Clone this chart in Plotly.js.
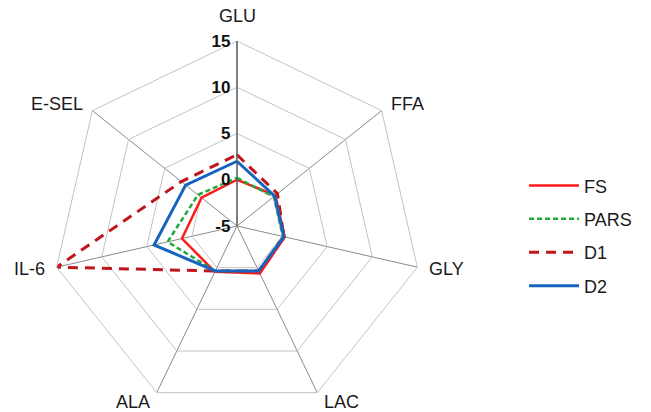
<!DOCTYPE html>
<html>
<head>
<meta charset="utf-8">
<script src="https://cdn.plot.ly/plotly-3.0.1.min.js"></script>
<style>html,body{margin:0;padding:0;background:#fff;}#chart{width:651px;height:412px;}</style>
</head>
<body>
<div id="chart"></div>
<script>
var categories = ['GLU', 'FFA', 'GLY', 'LAC', 'ALA', 'IL-6', 'E-SEL'];
var FS   = [0.0, 0.3, 0.3, 0.7, 0.5, 1.1, -0.1];
var PARS = [0.2, 0.1, 0.1, 0.4, 0.4, 2.7, 0.4];
var D1   = [2.7, 0.6, 0.2, 0.4, 0.4, 15.0, 2.7];
var D2   = [2.0, 0.2, 0.2, 0.4, 0.4, 4.2, 2.1];
var radialTicks = [-5, 0, 5, 10, 15];

var W = 651, H = 412;
var domX = [52 / W, 422 / W];
var domY = [1 / H, 371 / H];

function closed(a) { return a.concat([a[0]]); }

function trace(name, vals, color, width, dash) {
  return {
    type: 'scatterpolar', mode: 'lines', name: name, legendgroup: name,
    r: closed(vals), theta: closed(categories),
    line: {color: color, width: width, dash: dash}
  };
}

var data = [
  trace('FS', FS, '#ff1a1a', 2.5, 'solid'),
  trace('PARS', PARS, '#1fa83c', 2.5, '5px,3px'),
  trace('D1', D1, '#c0151c', 3, '10px,7px'),
  trace('D2', D2, '#1565c0', 3, 'solid')
];

// category labels placed just outside each outer vertex of the polygon
var cxp = (domX[0] + domX[1]) / 2, cyp = (domY[0] + domY[1]) / 2;
var Rpx = Math.min((domX[1] - domX[0]) * W, (domY[1] - domY[0]) * H) / 2;
var gap = 10;
var annotations = categories.map(function (c, i) {
  var a = Math.PI / 2 - i * 2 * Math.PI / categories.length;
  var co = Math.cos(a), si = Math.sin(a);
  return {
    xref: 'paper', yref: 'paper', showarrow: false, text: c,
    x: cxp + Rpx * co / W, y: cyp + Rpx * si / H,
    xshift: gap * co, yshift: gap * si + (si > 0.9 ? 3 : 0),
    xanchor: Math.abs(co) < 0.1 ? 'center' : (co > 0 ? 'left' : 'right'),
    yanchor: si > 0.9 ? 'bottom' : 'middle',
    font: {size: 18, color: '#1a1a1a'}
  };
});

var layout = {
  width: W, height: H,
  margin: {l: 0, r: 0, t: 0, b: 0},
  paper_bgcolor: '#ffffff',
  font: {family: 'Liberation Sans, Arial, sans-serif', size: 17, color: '#1a1a1a'},
  showlegend: true,
  legend: {x: 0.805, y: 0.594, xanchor: 'left', yanchor: 'top',
           traceorder: 'grouped', tracegroupgap: 7, itemwidth: 50,
           font: {size: 18, color: '#1a1a1a'}, bgcolor: 'rgba(0,0,0,0)'},
  annotations: annotations,
  polar: {
    domain: {x: domX, y: domY},
    bgcolor: '#ffffff',
    gridshape: 'linear',
    radialaxis: {
      range: [-5, 15], tickvals: radialTicks, ticktext: radialTicks.map(String),
      angle: 90, side: 'counterclockwise', tickangle: 90,
      showline: true, linecolor: '#5a5a5a', linewidth: 1.3,
      gridcolor: '#c4c4c4', gridwidth: 1,
      ticks: '', tickfont: {size: 17, weight: 'bold', color: '#111'}
    },
    angularaxis: {
      type: 'category', categoryarray: categories,
      direction: 'clockwise', rotation: 90,
      showline: true, linecolor: '#c4c4c4', linewidth: 1,
      gridcolor: '#8a8a8a', gridwidth: 1,
      ticks: '', showticklabels: false
    }
  }
};

Plotly.newPlot('chart', data, layout, {displayModeBar: false, staticPlot: true});
</script>
</body>
</html>
